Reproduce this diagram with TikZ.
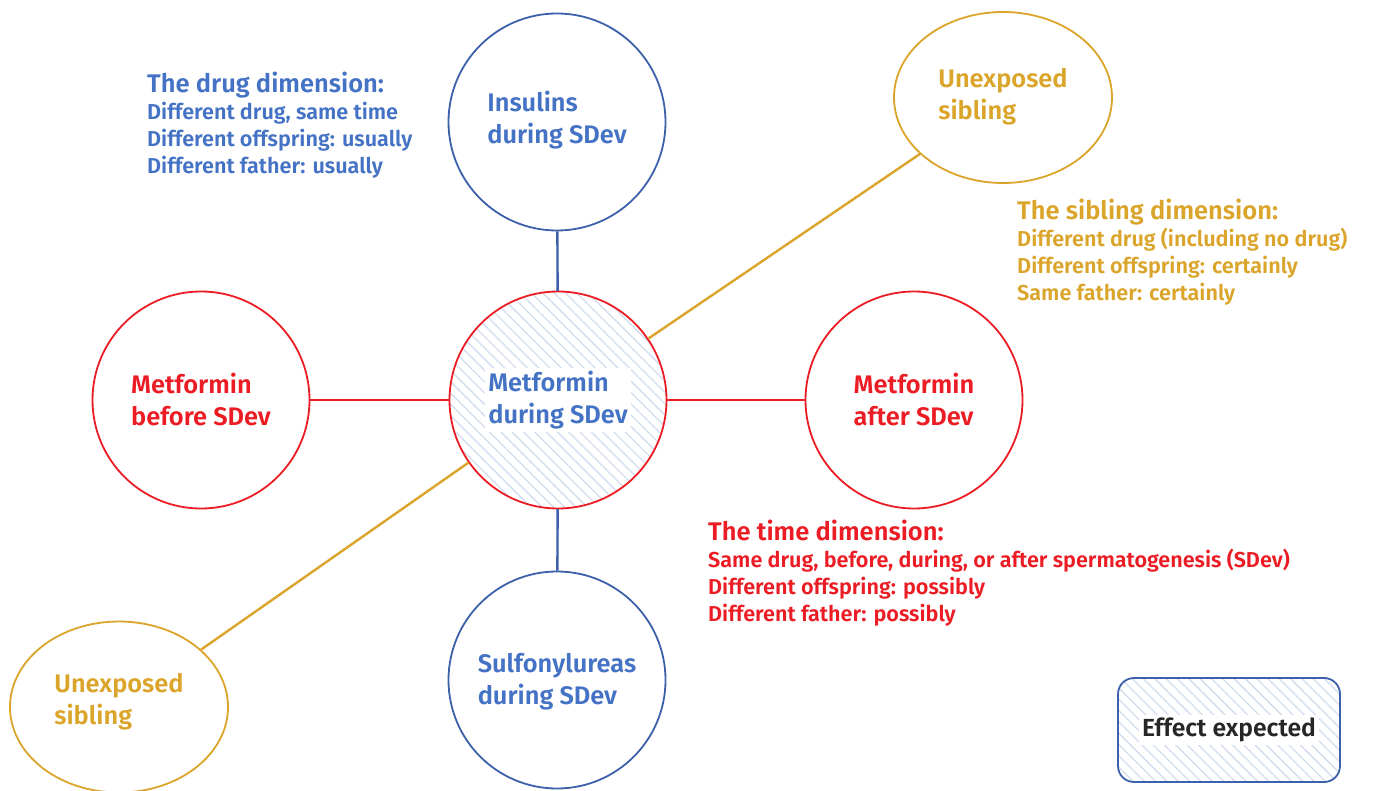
\documentclass[tikz,border=0pt]{standalone}
\usepackage{fontspec}
\setmainfont{Fira Sans}[BoldFont={Fira Sans SemiBold}]
\usetikzlibrary{shapes.geometric,patterns.meta}
\definecolor{dblue}{HTML}{4472C4}
\definecolor{cblue}{HTML}{3C61AA}
\definecolor{dred}{HTML}{EC1C24}
\definecolor{dgold}{HTML}{DAA52A}
\definecolor{hatch}{HTML}{D3DDEF}
\tikzset{
  bubble/.style={circle,line width=1.8pt,minimum size=217pt,inner sep=0pt},
  sib/.style={ellipse,draw=dgold,line width=1.8pt,minimum width=218pt,minimum height=171pt,inner sep=0pt},
  bubtext/.style={align=left,font=\fontsize{25.4}{32}\selectfont\bfseries,inner sep=0pt},
  conn/.style={line width=2.4pt},
  hatched/.style={pattern={Lines[angle=-45,distance=8pt,line width=1.3pt]},pattern color=hatch},
  dimtext/.style={anchor=base west,align=left,inner sep=0pt,font=\fontsize{21.6}{27}\selectfont\bfseries},
}
\newcommand{\dimhead}[1]{{\fontsize{25.5}{30}\selectfont #1}}
\begin{document}
\begin{tikzpicture}[x=1pt,y=-1pt]
\useasboundingbox[fill=white] (0,0) rectangle (1373,791);
% bubbles
\node[bubble,draw=dred,hatched] (c) at (558,400) {};
\node[bubtext,text=dblue,fill=white,inner sep=3pt] (ct) at (558,400) {Metformin\\during SDev};
\node[bubble,draw=cblue] (ins) at (557,122) {};
\node[bubtext,text=dblue] (inst) at (557,120) {Insulins\\during SDev};
\node[bubble,draw=cblue] (sul) at (557,680) {};
\node[bubtext,text=dblue] (sult) at (557,682) {Sulfonylureas\\during SDev};
\node[bubble,draw=dred] (bef) at (201,400) {};
\node[bubtext,text=dred] (beft) at (201,400) {Metformin\\before SDev};
\node[bubble,draw=dred] (aft) at (914,400) {};
\node[bubtext,text=dred] (aftt) at (914,400) {Metformin\\after SDev};
\node[sib] (s1) at (1003,97.5) {};
\node[bubtext,text=dgold] (s1t) at (1003,97) {Unexposed\\sibling};
\node[sib] (s2) at (119,707) {};
\node[bubtext,text=dgold] (s2t) at (119,702) {Unexposed\\sibling};
% connectors
\draw[conn,cblue] (ins) -- (c);
\draw[conn,cblue] (sul) -- (c);
\draw[conn,dred] (bef) -- (c);
\draw[conn,dred] (aft) -- (c);
\draw[conn,dgold] (s1) -- (c);
\draw[conn,dgold] (s2) -- (c);
% dimension texts (anchor = baseline of last line)
\node[dimtext,text=dblue] (drug) at (147,174) {\dimhead{The drug dimension:}\\[0pt]Different drug, same time\\Different offspring: usually\\Different father: usually};
\node[dimtext,text=dgold] (sibd) at (1017,301) {\dimhead{The sibling dimension:}\\[0pt]Different drug (including no drug)\\Different offspring: certainly\\Same father: certainly};
\node[dimtext,text=dred] (time) at (708,621) {\dimhead{The time dimension:}\\[0pt]Same drug, before, during, or after spermatogenesis (SDev)\\Different offspring: possibly\\Different father: possibly};
% legend
\node[draw=cblue,line width=1.8pt,rounded corners=16pt,hatched,minimum width=222pt,minimum height=104pt] (leg) at (1229,730) {};
\node[fill=white,inner sep=3pt,font=\fontsize{24.7}{28}\selectfont\bfseries,text=black!85] (legt) at (1229,730) {Effect expected};
\end{tikzpicture}
\end{document}
